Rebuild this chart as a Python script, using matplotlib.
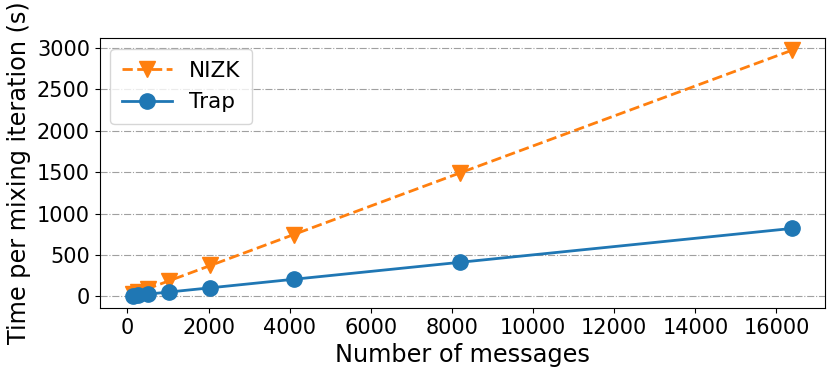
import matplotlib.pyplot as plt

# message counts and timings (seconds per mixing iteration)
messages = [128, 256, 512, 1024, 2048, 4096, 8192, 16384]
nizk = [23, 47, 93, 186, 372, 745, 1490, 2975]
trap = [6, 13, 26, 51, 102, 205, 410, 820]

plt.rcParams["font.size"] = 15
plt.rcParams["axes.labelsize"] = 17.3

fig, ax = plt.subplots(figsize=(8.3, 3.72), dpi=100)
ax.plot(messages, nizk, linestyle="--", marker="v", markersize=11,
        color="#ff7f0e", label="NIZK", linewidth=2)
ax.plot(messages, trap, linestyle="-", marker="o", markersize=11,
        color="#1f77b4", label="Trap", linewidth=2)

ax.grid(axis="y", linestyle="-.", color="#a0a0a0")
ax.set_axisbelow(True)
ax.set_xticks(range(0, 16001, 2000))
ax.set_yticks(range(0, 3001, 500))
ax.set_xlabel("Number of messages")
ax.set_ylabel("Time per mixing iteration (s)")
ax.legend(loc="upper left", fontsize=15.5, handlelength=2.3,
          borderpad=0.55, labelspacing=0.55)

plt.subplots_adjust(left=0.12, right=0.994, top=0.898, bottom=0.172)
plt.savefig("out.png", dpi=100)
plt.close()
